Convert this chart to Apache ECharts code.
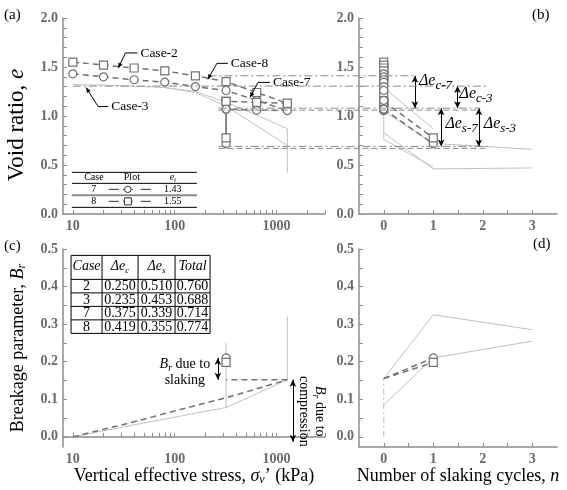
<!DOCTYPE html>
<html><head><meta charset="utf-8">
<script src="https://cdn.jsdelivr.net/npm/echarts@6/dist/echarts.min.js"></script>
<style>html,body{margin:0;padding:0;background:#fff}#c{width:567px;height:490px}</style>
</head><body><div id="c"></div>
<script>
// ---------- DATA ----------
const loadStress = [10, 20, 40, 80, 160, 320, 640, 1280];
const unloadStress = [1280, 640, 320];
const slakeStress = [320, 320];
const case7LoadE = [1.43, 1.40, 1.37, 1.345, 1.30, 1.26, 1.16, 1.055];
const case7UnloadE = [1.055, 1.06, 1.07];
const case8LoadE = [1.55, 1.52, 1.49, 1.46, 1.41, 1.35, 1.24, 1.13];
const case8UnloadE = [1.13, 1.14, 1.15];
const case7SlakeE = [1.07, 0.716];
const case8SlakeE = [1.15, 0.776];
const slakeCycles01 = [0, 1];
// light grey curves (cases 2, 3) panel (a)
const grayA1Stress = [10, 20, 40, 80, 160, 320, 640, 1280];
const grayA1E = [1.32, 1.315, 1.305, 1.29, 1.25, 1.14, 1.01, 0.87];
const grayA1SlakeStress = [1280, 1280];
const grayA1SlakeE = [0.87, 0.42];
const grayA2Stress = [80, 160, 320, 640, 1280];
const grayA2E = [1.29, 1.24, 1.10, 0.90, 0.70];
// light grey curves panel (b)
const grayB1N = [0, 1], grayB1E = [1.29, 0.87];
const grayB2N = [0, 1, 3], grayB2E = [1.05, 0.72, 0.66];
const grayB3N = [0, 1, 3], grayB3E = [0.83, 0.46, 0.47];
const grayB4N = [0, 1], grayB4E = [0.76, 0.48];
const grayB5N = [0, 0], grayB5E = [1.05, 0.76];
// breakage panel (c)
const brStress = [10, 20, 40, 80, 160, 320, 640, 1280];
const brDashed = [0, 0.02, 0.04, 0.062, 0.083, 0.104, 0.128, 0.152];
const brGray = [0, 0.016, 0.032, 0.047, 0.063, 0.078, 0.115, 0.152];
const brUnloadStress = [1280, 320];
const brUnload = [0.152, 0.152];
const brGray320 = [0.078, 0.25];
const brGray1280 = [0.152, 0.32];
const brSlake7 = [0.152, 0.21];
const brSlake8 = [0.152, 0.198];
// breakage panel (d)
const dN = [0, 1, 3];
const dGrayHigh = [0.155, 0.325, 0.285];
const dGrayLow = [0.085, 0.21, 0.255];
const dVertN = [0, 0], dVert = [0, 0.155];
const dDashN = [0, 1], dDash7 = [0.155, 0.21], dDash8 = [0.155, 0.198];
// reference levels (e)
const refLevels = [1.41, 1.305, 1.08, 0.69];
// tables
const tableCases = ['2', '3', '7', '8'];
const tableDec = ['0.250', '0.235', '0.375', '0.419'];
const tableDes = ['0.510', '0.453', '0.339', '0.355'];
const tableTotal = ['0.760', '0.688', '0.714', '0.774'];
const legendCases = ['7', '8'];
const legendEi = ['1.43', '1.55'];
// ticks
const stressLabels = [10, 100, 1000];
const stressTicks = [10,20,30,40,50,60,70,80,90,100,200,300,400,500,600,700,800,900,1000,2000,3000];
const nLabels = [0, 1, 2, 3];
const nTicks = [0, 0.5, 1, 1.5, 2, 2.5, 3];
const eLabels = [0, 0.5, 1.0, 1.5, 2.0];
const eTicks = [0,0.1,0.2,0.3,0.4,0.5,0.6,0.7,0.8,0.9,1.0,1.1,1.2,1.3,1.4,1.5,1.6,1.7,1.8,1.9,2.0];
const brLabels = [0, 0.1, 0.2, 0.3, 0.4, 0.5];
const brTicks = [0,0.05,0.1,0.15,0.2,0.25,0.3,0.35,0.4,0.45,0.5];

// ---------- STYLE ----------
const SERIF = "'Liberation Serif', 'Times New Roman', serif";
const AX = '#8c8c8c', LBL = '#6a6a6a', DARK = '#727272', LIGHT = '#c2c2c2';
const zip = (a, b) => a.map((v, i) => [v, b[i]]);
const zipN = (n, b) => b.map(v => [n, v]);
const tickLbl = { fontFamily: SERIF, fontSize: 14, fontWeight: 'bold', color: LBL, margin: 5 };

function xAxisLog(grid) {
  return { type: 'log', gridIndex: grid, min: 8, max: 3000,
    axisLine: { lineStyle: { color: AX, width: 1.5 } },
    axisTick: { inside: true, length: 4, customValues: stressTicks, lineStyle: { color: AX } },
    axisLabel: Object.assign({ customValues: stressLabels, formatter: v => String(Math.round(v)) }, tickLbl),
    splitLine: { show: false }, minorTick: { show: false } };
}
function xAxisN(grid) {
  return { type: 'value', gridIndex: grid, min: -0.5, max: 3.5,
    axisLine: { onZero: false, lineStyle: { color: AX, width: 1.5 } },
    axisTick: { inside: true, length: 4, customValues: nTicks, lineStyle: { color: AX } },
    axisLabel: Object.assign({ customValues: nLabels, formatter: v => String(v) }, tickLbl),
    splitLine: { show: false } };
}
function yAxisE(grid) {
  return { type: 'value', gridIndex: grid, min: 0, max: 2,
    axisLine: { show: true, onZero: false, lineStyle: { color: AX, width: 1.5 } },
    axisTick: { show: true, inside: true, length: 4, customValues: eTicks, lineStyle: { color: AX } },
    axisLabel: Object.assign({ customValues: eLabels, formatter: v => v.toFixed(1) }, tickLbl),
    splitLine: { show: false } };
}
function yAxisBr(grid) {
  return { type: 'value', gridIndex: grid, min: -0.027, max: 0.5,
    axisLine: { show: true, onZero: false, lineStyle: { color: AX, width: 1.5 } },
    axisTick: { show: true, inside: true, length: 4, customValues: brTicks, lineStyle: { color: AX } },
    axisLabel: Object.assign({ customValues: brLabels, formatter: v => v.toFixed(1) }, tickLbl),
    splitLine: { show: false } };
}
const titleRich = {
  t: { fontFamily: SERIF, fontSize: 18, color: '#000', verticalAlign: 'top', lineHeight: 20 },
  i: { fontFamily: SERIF, fontSize: 18, fontStyle: 'italic', color: '#000', verticalAlign: 'top', lineHeight: 20 },
  s: { fontFamily: SERIF, fontSize: 12, fontStyle: 'italic', color: '#000', verticalAlign: 'top', padding: [7, 0, 0, 0], lineHeight: 14 },
  T: { fontFamily: SERIF, fontSize: 23, color: '#000', verticalAlign: 'top', lineHeight: 24 },
  I: { fontFamily: SERIF, fontSize: 23, fontStyle: 'italic', color: '#000', verticalAlign: 'top', lineHeight: 24 },
  w: { width: 18, lineHeight: 24 }
};

const xa = xAxisLog(0), xb = xAxisN(1), xc = xAxisLog(2), xd = xAxisN(3);
xc.name = '{t|Vertical effective stress, }{i|σ}{s|v}{t|’ (kPa)}';
xc.nameLocation = 'middle'; xc.nameGap = 20; xc.nameTextStyle = { rich: titleRich };
xd.name = '{t|Number of slaking cycles, }{i|n}';
xd.nameLocation = 'middle'; xd.nameGap = 20; xd.nameTextStyle = { rich: titleRich };
const ya = yAxisE(0), yb = yAxisE(1), yc = yAxisBr(2), yd = yAxisBr(3);
ya.name = '{T|Void ratio, }{I|e}{w|}'; ya.nameLocation = 'middle'; ya.nameGap = 34; ya.nameRotate = 90; ya.nameTextStyle = { rich: titleRich };
yc.name = '{t|Breakage parameter, }{i|B}{s|r}'; yc.nameLocation = 'middle'; yc.nameGap = 34; yc.nameRotate = 90; yc.nameTextStyle = { rich: titleRich };

function line(xi, data, opt) {
  return Object.assign({ type: 'line', xAxisIndex: xi, yAxisIndex: xi, data: data, symbol: 'none', silent: true, animation: false,
    lineStyle: { color: LIGHT, width: 1 }, z: 2 }, opt || {});
}
const dashStyle = { color: DARK, width: 1.5, type: [6, 4] };
const mk7 = { symbol: 'circle', symbolSize: 8, showAllSymbol: true, itemStyle: { color: '#fff', borderColor: DARK, borderWidth: 1.2 } };
const mk8 = { symbol: 'rect', symbolSize: 8, showAllSymbol: true, itemStyle: { color: '#fff', borderColor: DARK, borderWidth: 1.2 } };

const arrowML = (pairs) => ({ silent: true, symbol: ['arrow', 'arrow'], symbolSize: [5, 7], animation: false,
  lineStyle: { color: '#000', width: 1, type: 'solid' }, label: { show: false },
  data: pairs.map(p => [{ coord: p[0] }, { coord: p[1] }]) });

const series = [
  // panel (a)
  line(0, zip(grayA1Stress, grayA1E)),
  line(0, zip(grayA1SlakeStress, grayA1SlakeE)),
  line(0, zip(grayA2Stress, grayA2E)),
  line(0, zip(loadStress, case7LoadE), Object.assign({ lineStyle: dashStyle, z: 5 }, mk7)),
  line(0, zip(unloadStress, case7UnloadE), Object.assign({ lineStyle: dashStyle, z: 5 }, mk7)),
  line(0, zip(slakeStress, case7SlakeE), Object.assign({ lineStyle: { color: DARK, width: 1.2 }, z: 5 }, mk7)),
  line(0, zip(loadStress, case8LoadE), Object.assign({ lineStyle: dashStyle, z: 5 }, mk8)),
  line(0, zip(unloadStress, case8UnloadE), Object.assign({ lineStyle: dashStyle, z: 5 }, mk8)),
  line(0, zip(slakeStress, case8SlakeE), Object.assign({ lineStyle: { color: DARK, width: 1.2 }, z: 5 }, mk8)),
  // panel (b)
  line(1, zip(grayB1N, grayB1E)),
  line(1, zip(grayB2N, grayB2E)),
  line(1, zip(grayB3N, grayB3E)),
  line(1, zip(grayB4N, grayB4E)),
  line(1, zip(grayB5N, grayB5E)),
  line(1, zipN(0, case8LoadE.concat(case8UnloadE)), Object.assign({ lineStyle: { width: 0 }, z: 5 }, mk8)),
  line(1, zipN(0, case7LoadE.concat(case7UnloadE)), Object.assign({ lineStyle: { width: 0 }, z: 5 }, mk7)),
  line(1, zip(slakeCycles01, case7SlakeE), Object.assign({ lineStyle: dashStyle, z: 5 }, mk7, { symbol: (v, p) => p.dataIndex ? 'circle' : 'none' })),
  line(1, zip(slakeCycles01, case8SlakeE), Object.assign({ lineStyle: dashStyle, z: 5 }, mk8, { symbol: (v, p) => p.dataIndex ? 'rect' : 'none',
    markLine: arrowML([[[0.63, refLevels[0]], [0.63, refLevels[2]]], [[1.49, refLevels[1]], [1.49, refLevels[2]]],
                       [[1.16, refLevels[2]], [1.16, refLevels[3]]], [[1.92, refLevels[2]], [1.92, refLevels[3]]]]) })),
  // panel (c)
  line(2, zip(brStress, brGray)),
  line(2, zip(slakeStress, brGray320)),
  line(2, zip([1280, 1280], brGray1280)),
  line(2, zip(brStress, brDashed), { lineStyle: dashStyle, z: 4 }),
  line(2, zip(brUnloadStress, brUnload), { lineStyle: dashStyle, z: 4,
    markLine: arrowML([[[266, 0.152], [266, 0.21]], [[1450, -0.013], [1450, 0.152]]]) }),
  line(2, zip(slakeStress, brSlake7), Object.assign({ lineStyle: { width: 0 }, z: 5 }, mk7, { symbol: (v, p) => p.dataIndex ? 'circle' : 'none' })),
  line(2, zip(slakeStress, brSlake8), Object.assign({ lineStyle: { width: 0 }, z: 5 }, mk8, { symbol: (v, p) => p.dataIndex ? 'rect' : 'none' })),
  // panel (d)
  line(3, zip(dN, dGrayHigh)),
  line(3, zip(dN, dGrayLow)),
  line(3, zip(dVertN, dVert), { lineStyle: { color: LIGHT, width: 1.2, type: [6, 3, 2, 3] } }),
  line(3, zip(dDashN, dDash7), Object.assign({ lineStyle: dashStyle, z: 5 }, mk7, { symbol: (v, p) => p.dataIndex ? 'circle' : 'none' })),
  line(3, zip(dDashN, dDash8), Object.assign({ lineStyle: dashStyle, z: 5 }, mk8, { symbol: (v, p) => p.dataIndex ? 'rect' : 'none' }))
];

const option = {
  backgroundColor: '#fff', animation: false,
  textStyle: { fontFamily: SERIF },
  grid: [
    { left: 63, top: 18, width: 262, height: 196 },
    { left: 359, top: 18, width: 198, height: 196 },
    { left: 63, top: 249, width: 262, height: 198 },
    { left: 359, top: 249, width: 198, height: 198 }
  ],
  xAxis: [xa, xb, xc, xd],
  yAxis: [ya, yb, yc, yd],
  series: series
};
const chart = echarts.init(document.getElementById('c'));
chart.setOption(option);

// ---------- ANNOTATIONS (positioned through the axes) ----------
const P = (g, x, y) => chart.convertToPixel({ gridIndex: g }, [x, y]);
const G = [];
const txt = (x, y, text, st) => G.push({ type: 'text', x: x, y: y, silent: true, z: 20,
  style: Object.assign({ text: text, fontFamily: SERIF, fontSize: 14, fill: '#000' }, st || {}) });
const seg = (pts, st) => G.push({ type: 'polyline', silent: true, z: 20, shape: { points: pts },
  style: Object.assign({ stroke: '#000', lineWidth: 1, fill: null }, st || {}) });

// panel letters
txt(4, 8, '(a)', { fontSize: 15 });
const pb = P(1, 3.5, 2.0); txt(pb[0] - 25, 8, '(b)', { fontSize: 15 });
txt(4, 239, '(c)', { fontSize: 15 });
txt(pb[0] - 24, 237, '(d)', { fontSize: 15 });

// reference lines spanning (a) -> (b)
const dashDot = [8, 3, 2, 3];
function refLine(level, sA, nB, extra) {
  const a = P(0, sA, level), b = P(1, nB, level);
  seg([[a[0], a[1]], [b[0], b[1]]], { stroke: '#8a8a8a', lineDash: dashDot });
  if (extra) seg([[a[0], a[1] + 2], [b[0], b[1] + 2]], { stroke: '#8a8a8a', lineDash: [6, 3] });
}
refLine(refLevels[0], 215, 0.65, false);
refLine(refLevels[1], 10, 2.1, false);
refLine(refLevels[2], 270, 1.95, true);
refLine(refLevels[3], 270, 2.1, true);

// case labels with leaders
function caseLabel(name, s, e, dx, dy, hl) {
  const t = P(0, s, e);
  const k = [t[0] + dx, t[1] + dy];
  const h = [k[0] + hl, k[1]];
  seg([t, k, h]);
  const ang = Math.atan2(k[1] - t[1], k[0] - t[0]);
  const L = 5, W = 2.2;
  const bx = t[0] + L * Math.cos(ang), by = t[1] + L * Math.sin(ang);
  G.push({ type: 'polygon', silent: true, z: 21, shape: { points: [t,
    [bx - W * Math.sin(ang), by + W * Math.cos(ang)], [bx + W * Math.sin(ang), by - W * Math.cos(ang)]] }, style: { fill: '#000' } });
  txt(h[0] + 3, h[1], name, { verticalAlign: 'middle', fontSize: 13.5 });
}
caseLabel('Case-2', 28, 1.49, 7, -15, 12);
caseLabel('Case-8', 212, 1.374, 9, -16, 11);
caseLabel('Case-7', 550, 1.19, 8, -15, 12);
caseLabel('Case-3', 13.5, 1.29, 12, 19, 10);

// delta labels
const dRich = { i: { fontFamily: SERIF, fontSize: 16, fontStyle: 'italic', verticalAlign: 'top', lineHeight: 18 },
  s: { fontFamily: SERIF, fontSize: 13, fontStyle: 'italic', verticalAlign: 'top', padding: [6, 0, 0, 0], lineHeight: 14 } };
function dLabel(n, e, main, s) {
  const p = P(1, n, e);
  G.push({ type: 'text', x: p[0], y: p[1], silent: true, z: 20, style: { text: '{i|' + main + '}{s|' + s + '}', rich: dRich, fill: '#000' } });
}
dLabel(0.71, 1.44, 'Δe', 'c-7');
dLabel(1.53, 1.31, 'Δe', 'c-3');
dLabel(1.245, 1.0, 'Δe', 's-7');
dLabel(2.02, 1.0, 'Δe', 's-3');

// Br annotations
const bRich = { t: { fontFamily: SERIF, fontSize: 14, fill: '#000', lineHeight: 16, verticalAlign: 'top' },
  i: { fontFamily: SERIF, fontSize: 14, fontStyle: 'italic', fill: '#000', lineHeight: 16, verticalAlign: 'top' },
  s: { fontFamily: SERIF, fontSize: 10, fontStyle: 'italic', fill: '#000', lineHeight: 16, verticalAlign: 'top', padding: [6, 0, 0, 0] } };
const ps = P(2, 126, 0.168);
G.push({ type: 'text', x: ps[0], y: ps[1], silent: true, z: 20, style: { text: '{i|B}{s|r}{t| due to}\n{t|slaking}', rich: bRich, align: 'center', verticalAlign: 'middle' } });
const pc = P(2, 2180, 0.068);
G.push({ type: 'text', x: pc[0], y: pc[1], rotation: -Math.PI / 2, silent: true, z: 20, style: { text: '{i|B}{s|r}{t| due to}\n{t|compression}', rich: bRich, align: 'center', verticalAlign: 'middle' } });

// legend table (a)
(function () {
  const o = P(0, 10, 0.425);
  const x0 = o[0] - 1, y0 = o[1];
  const w = 125;
  const rows = [0, 11, 23, 35];
  seg([[x0, y0 + rows[0]], [x0 + w, y0 + rows[0]]]);
  seg([[x0, y0 + rows[1]], [x0 + w, y0 + rows[1]]]);
  seg([[x0, y0 + rows[2]], [x0 + w, y0 + rows[2]]], { stroke: '#8a8a8a', lineWidth: 2 });
  seg([[x0, y0 + rows[3]], [x0 + w, y0 + rows[3]]]);
  const cx = [x0 + 22, x0 + 60, x0 + 101];
  const st = { fontSize: 10, align: 'center', verticalAlign: 'middle' };
  txt(cx[0], y0 + 5.5, 'Case', st);
  txt(cx[1], y0 + 5.5, 'Plot', st);
  G.push({ type: 'text', x: cx[2], y: y0 + 5.5, silent: true, z: 20, style: { text: '{i|e}{s|i}', align: 'center', verticalAlign: 'middle',
    rich: { i: { fontFamily: SERIF, fontSize: 10, fontStyle: 'italic', verticalAlign: 'top', lineHeight: 10 }, s: { fontFamily: SERIF, fontSize: 7, fontStyle: 'italic', verticalAlign: 'top', lineHeight: 8, padding: [4, 0, 0, 0] } } } });
  for (let r = 0; r < 2; r++) {
    const yc = y0 + rows[r + 1] + 6;
    txt(cx[0], yc, legendCases[r], st);
    txt(cx[2], yc, legendEi[r], st);
    seg([[cx[1] - 23, yc], [cx[1] - 13, yc]], { stroke: '#333' });
    seg([[cx[1] - 9, yc], [cx[1] + 1, yc]], { stroke: '#333' });
    seg([[cx[1] + 9, yc], [cx[1] + 19, yc]], { stroke: '#333' });
    if (r === 0) G.push({ type: 'circle', silent: true, z: 21, shape: { cx: cx[1] - 4, cy: yc, r: 3.2 }, style: { fill: '#fff', stroke: '#333', lineWidth: 1 } });
    else G.push({ type: 'rect', silent: true, z: 21, shape: { x: cx[1] - 7.5, y: yc - 3.5, width: 7, height: 7 }, style: { fill: '#fff', stroke: '#333', lineWidth: 1 } });
  }
})();

// table (c)
(function () {
  const o = P(2, 9.6, 0.483);
  const x0 = o[0], y0 = o[1];
  const cols = [0, 31, 67, 104, 139];
  const rows = [0, 24, 37.5, 51, 64.5, 78];
  G.push({ type: 'rect', silent: true, z: 19, shape: { x: x0, y: y0, width: cols[4], height: rows[5] }, style: { fill: '#fff', stroke: '#000', lineWidth: 1 } });
  rows.slice(1, 5).forEach(r => seg([[x0, y0 + r], [x0 + cols[4], y0 + r]]));
  cols.slice(1, 4).forEach(c => seg([[x0 + c, y0], [x0 + c, y0 + rows[5]]]));
  const cc = i => x0 + (cols[i] + cols[i + 1]) / 2;
  const tr = { i: { fontFamily: SERIF, fontSize: 14, fontStyle: 'italic', verticalAlign: 'top', lineHeight: 16 },
    s: { fontFamily: SERIF, fontSize: 9, fontStyle: 'italic', verticalAlign: 'top', lineHeight: 10, padding: [7, 0, 0, 0] },
    d: { fontFamily: SERIF, fontSize: 14, fontStyle: 'italic', verticalAlign: 'top', lineHeight: 16 } };
  const hy = y0 + rows[1] / 2;
  const head = ['{i|Case}', '{d|Δ}{i|e}{s|c}', '{d|Δ}{i|e}{s|s}', '{i|Total}'];
  head.forEach((h, i) => G.push({ type: 'text', x: cc(i), y: hy, silent: true, z: 20, style: { text: h, rich: tr, align: 'center', verticalAlign: 'middle' } }));
  const st = { fontSize: 14, align: 'center', verticalAlign: 'middle' };
  for (let r = 0; r < 4; r++) {
    const yc = y0 + (rows[r + 1] + rows[r + 2]) / 2 + 0.5;
    txt(cc(0), yc, tableCases[r], st);
    txt(cc(1), yc, tableDec[r], st);
    txt(cc(2), yc, tableDes[r], st);
    txt(cc(3), yc, tableTotal[r], st);
  }
})();

chart.setOption({ graphic: G });
</script></body></html>
